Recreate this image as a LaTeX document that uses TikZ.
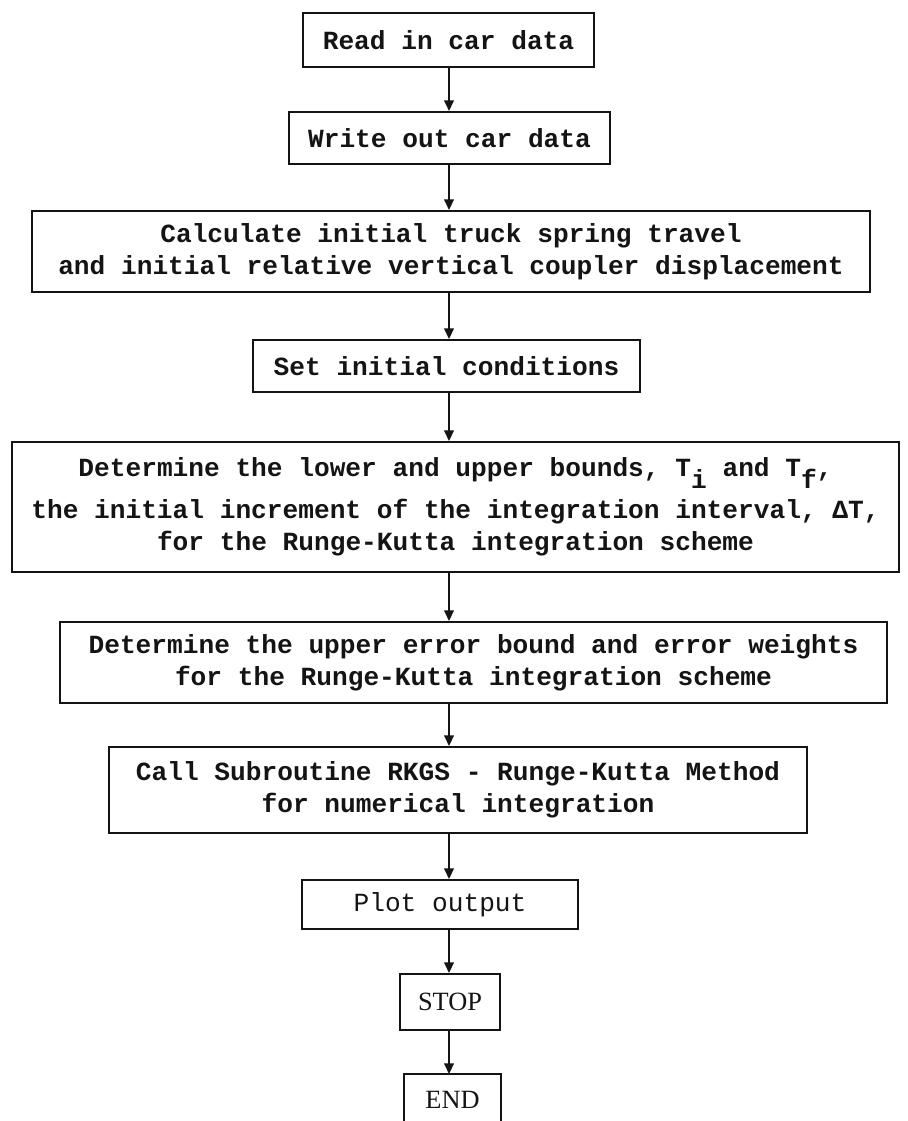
\documentclass[tikz,border=0pt]{standalone}
\usepackage{fontspec}
\setmainfont{Liberation Serif}
\setmonofont{Liberation Mono}
\usepackage{tikz}
\usetikzlibrary{arrows.meta,positioning}
\definecolor{cInk}{RGB}{20,20,20}
\tikzset{
  basebox/.style={rectangle,draw=cInk,line width=1.2pt,inner sep=0pt,
                  align=center,text=cInk,
                  font=\ttfamily\bfseries\fontsize{14.9}{18.4}\selectfont},
  plotbox/.style={basebox,font=\ttfamily\fontsize{14.9}{18.4}\selectfont},
  endbox/.style={basebox,font=\rmfamily\fontsize{15}{18}\selectfont},
  arr/.style={-{Triangle[length=6pt,width=5.5pt]},line width=1.1pt,color=cInk}
}
\newcommand{\lowsub}[1]{\raisebox{-0.45em}{#1}}

\begin{document}
\begin{tikzpicture}[x=0.02cm,y=-0.02cm]
  \fill[white] (0,0) rectangle (907,1121);
  \useasboundingbox (0,0) rectangle (907,1121);
  \coordinate (spine) at (449,0);

  \node[basebox,minimum width=5.82cm,minimum height=1.08cm] (read) at (448.5,40)
    {Read in car data};
  \node[basebox,minimum width=6.42cm,minimum height=1.04cm] (write) at (449.5,138)
    {Write out car data};
  \node[basebox,minimum width=16.76cm,minimum height=1.62cm] (calc) at (451,251.5)
    {Calculate initial truck spring travel\\
     and initial relative vertical coupler displacement};
  \node[basebox,minimum width=7.74cm,minimum height=1.04cm] (setic) at (446.5,366)
    {Set initial conditions};
  \node[basebox,minimum width=17.74cm,minimum height=2.6cm] (bounds) at (455.5,507)
    {Determine the lower and upper bounds, T\lowsub{i} and T\lowsub{f},\\[5pt]
     the initial increment of the integration interval, ΔT,\\
     for the Runge-Kutta integration scheme};
  \node[basebox,minimum width=16.54cm,minimum height=1.62cm] (errb) at (473.5,662.5)
    {Determine the upper error bound and error weights\\
     for the Runge-Kutta integration scheme};
  \node[basebox,minimum width=13.96cm,minimum height=1.72cm] (rkgs) at (458,790)
    {Call Subroutine RKGS - Runge-Kutta Method\\
     for numerical integration};
  \node[plotbox,minimum width=5.52cm,minimum height=0.98cm] (plot) at (440,904.5)
    {Plot output};
  \node[endbox,minimum width=2cm,minimum height=1.12cm] (stop) at (450,1002)
    {STOP};
  \node[endbox,draw=none,minimum width=1.9cm,minimum height=1cm] (ennd) at (452.5,1100)
    {END};
  \draw[line width=1.2pt,cInk] (ennd.south west) -- (ennd.north west)
    -- (ennd.north east) -- (ennd.south east);

  % spine of arrows
  \foreach \a/\b in {read/write,write/calc,calc/setic,setic/bounds,
                     bounds/errb,errb/rkgs,rkgs/plot,plot/stop,stop/ennd}
    \draw[arr] (spine |- \a.south) -- (spine |- \b.north);
\end{tikzpicture}
\end{document}
